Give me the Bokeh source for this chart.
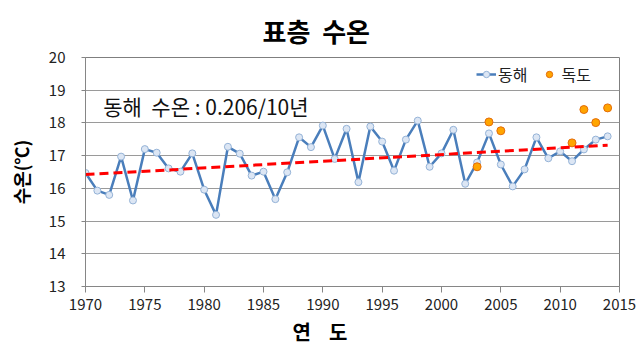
from bokeh.plotting import figure
from bokeh.models import (ColumnDataSource, Range1d, FixedTicker, Label, Legend, LegendItem, Title)
from bokeh.embed import file_html
from bokeh.resources import INLINE

years = list(range(1970, 2015))
donghae = [16.47, 15.93, 15.80, 16.97, 15.63, 17.20, 17.09, 16.61, 16.51, 17.07,
           15.96, 15.19, 17.27, 17.06, 16.39, 16.51, 15.67, 16.49, 17.56, 17.26,
           17.92, 16.90, 17.82, 16.19, 17.89, 17.43, 16.54, 17.49, 18.07, 16.66,
           17.07, 17.79, 16.14, 16.79, 17.68, 16.73, 16.06, 16.58, 17.56, 16.92,
           17.13, 16.83, 17.19, 17.49, 17.59]
dokdo_years = [2003, 2004, 2005, 2011, 2012, 2013, 2014]
dokdo = [16.66, 18.03, 17.76, 17.39, 18.41, 18.01, 18.46]
trend_years = [1970, 2014]
trend_values = [16.42, 17.32]
x_ticks = [1970, 1975, 1980, 1985, 1990, 1995, 2000, 2005, 2010, 2015]
y_ticks = [13, 14, 15, 16, 17, 18, 19, 20]

NB = "\u00a0"
title_text = "표층" + NB + NB + "수온"
x_title = "연" + NB * 4 + "도"
y_title = "수온(℃)"
note_text = "동해" + NB + NB + "수온 : 0.206/10년"

FONT = "Noto Sans CJK KR"

p = figure(width=643, height=353, output_backend="svg", toolbar_location=None,
           x_range=Range1d(1970, 2015), y_range=Range1d(13, 20),
           min_border_left=85, min_border_right=24, min_border_top=57, min_border_bottom=67)
p.background_fill_color = "white"
p.border_fill_color = "white"
p.outline_line_color = "#7f7f7f"

p.xaxis.ticker = FixedTicker(ticks=x_ticks)
p.yaxis.ticker = FixedTicker(ticks=y_ticks)
for ax in (p.xaxis, p.yaxis):
    ax.axis_line_color = "#868686"
    ax.major_tick_line_color = "#868686"
    ax.minor_tick_line_color = None
    ax.major_label_text_font = FONT
    ax.major_label_text_font_size = "15px"
    ax.major_label_text_color = "#222222"
p.xaxis.major_tick_out = 6
p.xaxis.major_tick_in = 0
p.yaxis.major_tick_out = 4
p.yaxis.major_tick_in = 0
p.xaxis.major_label_standoff = 6
p.yaxis.major_label_standoff = 16

p.yaxis.axis_label = y_title
p.yaxis.axis_label_text_font = FONT
p.yaxis.axis_label_text_font_style = "bold"
p.yaxis.axis_label_text_font_size = "18px"
p.yaxis.axis_label_text_color = "black"
p.yaxis.axis_label_standoff = 12

p.xgrid.grid_line_color = None
p.ygrid.grid_line_color = "#9a9a9a"
p.ygrid.grid_line_width = 1

src = ColumnDataSource(dict(x=years, y=donghae))
ln = p.line("x", "y", source=src, line_color="#4A7EBB", line_width=2.5)
mk = p.scatter("x", "y", source=src, size=7, fill_color="#DCE6F4", line_color="#95B3D7", line_width=1)

dsrc = ColumnDataSource(dict(x=dokdo_years, y=dokdo))
dk = p.scatter("x", "y", source=dsrc, size=8, fill_color="#FFA500", line_color="#E46C0A", line_width=1)

tsrc = ColumnDataSource(dict(x=trend_years, y=trend_values))
p.line("x", "y", source=tsrc, line_color="#FF0000", line_width=3, line_dash="9 5")

legend = Legend(items=[LegendItem(label="동해", renderers=[ln, mk]),
                       LegendItem(label="독도", renderers=[dk])],
                orientation="horizontal", location=(391, 200),
                label_text_font=FONT, label_text_font_size="16px", label_text_color="#222222",
                glyph_width=20, glyph_height=16, label_standoff=2, spacing=12,
                padding=0, margin=0, background_fill_alpha=0, border_line_color=None)
p.add_layout(legend)

p.add_layout(Label(x=1971.5, y=18.53, text=note_text, text_font=FONT,
                   text_font_size="21px", text_color="#111111", text_baseline="middle"))

p.add_layout(Title(text=title_text, align="left", offset=177, standoff=16,
                   vertical_align="middle",
                   text_font=FONT, text_font_size="26px", text_font_style="bold",
                   text_color="black"), "above")
p.add_layout(Title(text=x_title, align="left", offset=207, standoff=5,
                   text_font=FONT, text_font_size="20px", text_font_style="bold",
                   text_color="black"), "below")

open("out.html", "w").write(file_html(p, INLINE))
